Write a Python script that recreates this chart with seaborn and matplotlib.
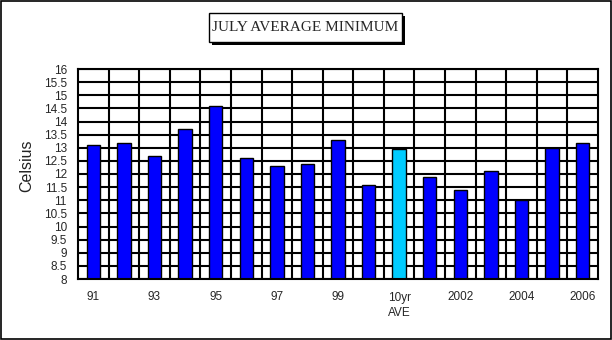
import matplotlib
matplotlib.use("Agg")
import matplotlib.pyplot as plt
import matplotlib.patches as mpatches
import numpy as np
import pandas as pd
import seaborn as sns

# July average minimum temperatures (Celsius), 1991-2006 plus the 10-year average
categories = ["91", "92", "93", "94", "95", "96", "97", "98", "99", "2000",
              "10yr AVE", "2001", "2002", "2003", "2004", "2005", "2006"]
values = [13.1, 13.2, 12.7, 13.7, 14.6, 12.6, 12.3, 12.4, 13.3, 11.6,
          12.95, 11.9, 11.4, 12.1, 11.0, 13.0, 13.2]
tick_labels = ["91", "", "93", "", "95", "", "97", "", "99", "",
               "10yr\nAVE", "", "2002", "", "2004", "", "2006"]
bar_colors = ["#0000FF"] * 10 + ["#00CCFF"] + ["#0000FF"] * 6
y_ticks = np.arange(8, 16.01, 0.5)

sns.set_theme(style="white")
plt.rcParams["font.family"] = ["Liberation Sans", "DejaVu Sans"]

fig = plt.figure(figsize=(6.12, 3.4), dpi=100)
fig.patch.set_facecolor("white")
ax = fig.add_axes([78 / 612, 1 - 279 / 340, 520 / 612, 210 / 340])

df = pd.DataFrame({"label": categories, "value": values})
sns.barplot(data=df, x="label", y="value", hue="label", palette=bar_colors,
            legend=False, width=0.44, edgecolor="black", linewidth=1.0,
            saturation=1, ax=ax, zorder=3)

ax.set_ylim(8, 16)
ax.set_xlim(-0.5, len(categories) - 0.5)
ax.set_yticks(y_ticks)
ax.set_yticklabels([f"{v:g}" for v in y_ticks], fontsize=8.5)
ax.set_xticks(range(len(categories)))
ax.set_xticklabels(tick_labels, fontsize=8.5, linespacing=1.35)

# black grid: horizontal every 0.5 degree, vertical between categories
ax.grid(False)
for v in y_ticks:
    ax.axhline(v, color="black", linewidth=1.5, zorder=1)
for xb in np.arange(0.5, len(categories) - 1, 1):
    ax.axvline(xb, color="black", linewidth=1.5, zorder=1)

ax.tick_params(axis="x", which="major", direction="in", length=3, width=1,
               color="black", pad=9, bottom=True)
ax.tick_params(axis="y", length=0, pad=8)
for s in ax.spines.values():
    s.set_color("black")
    s.set_linewidth(1.5)
    s.set_zorder(4)

ax.set_xlabel("")
ax.set_ylabel("Celsius", fontsize=11.5, color="#222222")
ax.yaxis.set_label_coords(-0.085, 0.54)

# title box with drop shadow
bx0, bx1, by0, by1 = 209, 402, 13, 42
shadow = mpatches.Rectangle(((bx0 + 3) / 612, 1 - (by1 + 3) / 340),
                            (bx1 - bx0) / 612, (by1 - by0) / 340,
                            transform=fig.transFigure, facecolor="black",
                            edgecolor="none", zorder=5)
box = mpatches.Rectangle((bx0 / 612, 1 - by1 / 340),
                         (bx1 - bx0) / 612, (by1 - by0) / 340,
                         transform=fig.transFigure, facecolor="white",
                         edgecolor="black", linewidth=1.0, zorder=6)
fig.add_artist(shadow)
fig.add_artist(box)
fig.text((bx0 + bx1) / 2 / 612, 1 - (by0 + by1) / 2 / 340, "JULY AVERAGE MINIMUM",
         ha="center", va="center", fontsize=11,
         family=["Liberation Serif", "DejaVu Serif"], zorder=7)

# outer frame
fig.add_artist(mpatches.Rectangle((0.001, 0.002), 0.997, 0.996,
                                  transform=fig.transFigure, fill=False,
                                  edgecolor="black", linewidth=1.2))

fig.savefig("out.png", dpi=100)
